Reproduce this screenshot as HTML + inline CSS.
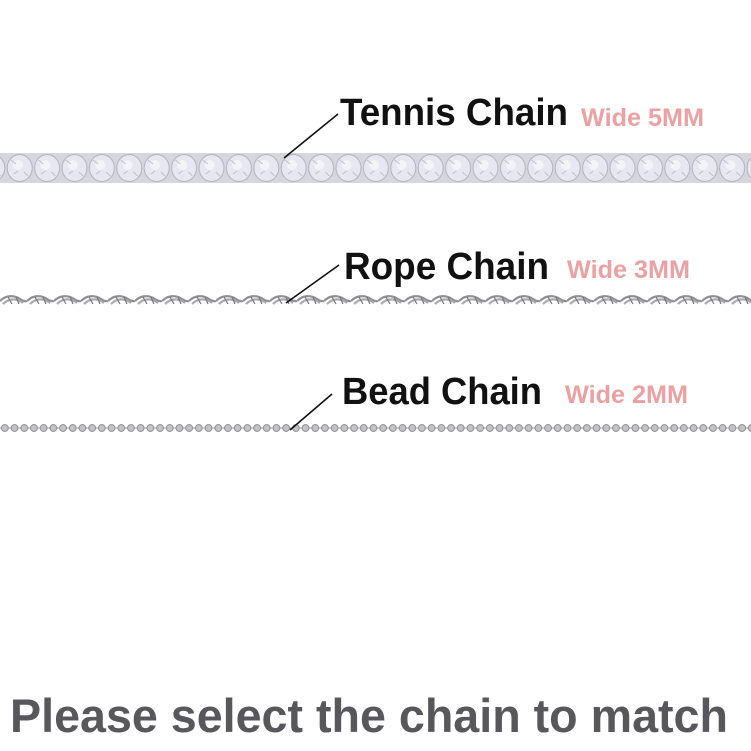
<!DOCTYPE html>
<html><head><meta charset="utf-8"><style>
html,body{margin:0;padding:0;background:#fff;}
svg{display:block;}
text{font-family:"Liberation Sans",sans-serif;}
</style></head><body>
<svg width="751" height="751" viewBox="0 0 751 751" xmlns="http://www.w3.org/2000/svg">
<defs>
<pattern id="tennis" x="6" y="152" width="27.4" height="32" patternUnits="userSpaceOnUse">
<rect x="0" y="0" width="27.4" height="32" fill="#d6d6de"/>
<ellipse cx="13.7" cy="16" rx="12.5" ry="13.5" fill="#e7e7f1" stroke="#b3b3bc" stroke-width="1"/>
<ellipse cx="12" cy="13" rx="5" ry="5" fill="#f3f3fa"/>
<path d="M5 8 L10 12 M18 20 L22 24 M8 22 L12 19" stroke="#c0c0ca" stroke-width="1"/>
</pattern>
<pattern id="rope" x="0" y="292" width="27" height="16" patternUnits="userSpaceOnUse">
<path d="M0 9 C6 3,14 3,20 7 C24 10,27 9,27 9" fill="none" stroke="#8e8e94" stroke-width="2.2"/>
<path d="M3 12 C9 6,17 6,23 11" fill="none" stroke="#a8a8ae" stroke-width="2.2"/>
<path d="M8 5 L12 12 M16 5 L19 12" stroke="#77777d" stroke-width="1.2"/>
</pattern>
<pattern id="bead" x="0" y="422" width="9.7" height="12" patternUnits="userSpaceOnUse">
<line x1="0" y1="6" x2="9.7" y2="6" stroke="#999" stroke-width="1"/>
<circle cx="4.85" cy="6" r="3.4" fill="#c4c4c8" stroke="#858589" stroke-width="0.9"/>
</pattern>
</defs>
<rect width="751" height="751" fill="#fff"/>
<rect x="0" y="153" width="751" height="30" fill="url(#tennis)"/>
<rect x="0" y="292" width="751" height="16" fill="url(#rope)"/>
<rect x="0" y="423" width="751" height="11" fill="url(#bead)"/>

<line x1="284" y1="158" x2="338" y2="114" stroke="#111" stroke-width="1.6"/>
<line x1="286" y1="303" x2="339" y2="265" stroke="#111" stroke-width="1.6"/>
<line x1="290" y1="430" x2="332" y2="394" stroke="#111" stroke-width="1.6"/>

<text x="340" y="125" font-size="38" font-weight="bold" fill="#111" textLength="228" lengthAdjust="spacingAndGlyphs">Tennis Chain</text>
<text x="581" y="126" font-size="25" font-weight="bold" fill="#eba0a2" textLength="123" lengthAdjust="spacingAndGlyphs">Wide 5MM</text>
<text x="344" y="279" font-size="38" font-weight="bold" fill="#111" textLength="205" lengthAdjust="spacingAndGlyphs">Rope Chain</text>
<text x="567" y="278" font-size="25" font-weight="bold" fill="#eba0a2" textLength="123" lengthAdjust="spacingAndGlyphs">Wide 3MM</text>
<text x="342" y="404" font-size="38" font-weight="bold" fill="#111" textLength="200" lengthAdjust="spacingAndGlyphs">Bead Chain</text>
<text x="565" y="403" font-size="25" font-weight="bold" fill="#eba0a2" textLength="123" lengthAdjust="spacingAndGlyphs">Wide 2MM</text>

<text x="10" y="732" font-size="47" font-weight="bold" fill="#58575c" textLength="718" lengthAdjust="spacingAndGlyphs">Please select the chain to match</text>
</svg>
</body></html>
